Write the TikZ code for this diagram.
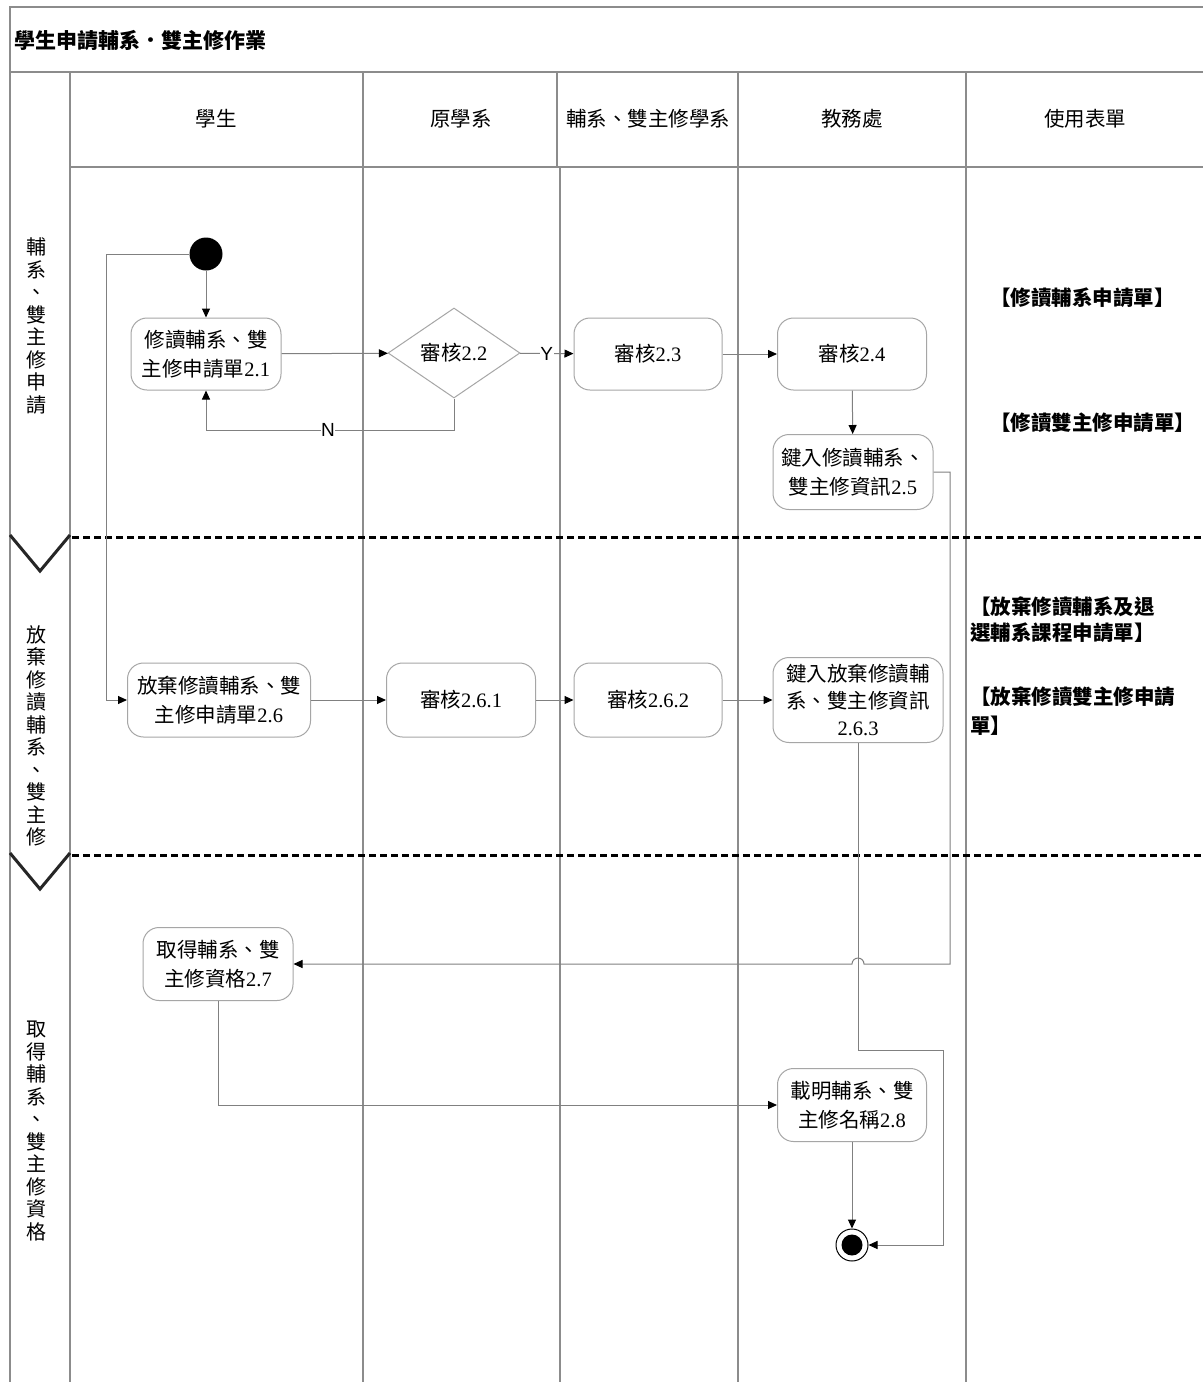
\documentclass[tikz,border=0pt]{standalone}
\usepackage{fontspec}
\setmainfont{Liberation Serif}
\newfontfamily\cjk{Noto Sans CJK TC}
\newfontfamily\lsans{Liberation Sans}
\usetikzlibrary{shapes.geometric,arrows.meta}
\newcommand\ZH[1]{{\cjk #1}}
\newcommand\ndfont{\fontsize{20.5}{29}\selectfont}
\newcommand\hdfont{\fontsize{20.5}{23}\selectfont\cjk}
\begin{document}
\begin{tikzpicture}[x=1pt,y=-1pt,
  lane/.style={draw=black!45,line width=1.2pt},
  box/.style={draw=black!35,line width=1pt,rounded corners=16pt,align=center,inner sep=2pt,font=\ndfont},
  dec/.style={draw=black!35,line width=1pt,shape=diamond,aspect=1.47,inner sep=0pt,minimum width=132pt,minimum height=90pt,font=\ndfont},
  conn/.style={draw=black!50,line width=1pt,-{Triangle[length=9pt,width=8pt,color=black]}},
  sepline/.style={draw=black,line width=3pt,dash pattern=on 7pt off 4pt},
  chev/.style={draw=black!85,line width=3pt},
  hd/.style={font=\hdfont,inner sep=1pt},
  phase/.style={font=\fontsize{20}{22.5}\selectfont\cjk,align=center,inner sep=0pt},
  form/.style={font=\fontsize{20.5}{27}\selectfont\cjk\bfseries,align=left,inner sep=0pt,anchor=west},
  lbl/.style={font=\fontsize{19}{22}\selectfont\lsans,fill=white,inner sep=0.5pt}
]
\useasboundingbox (0,0) rectangle (1203,1382);
\fill[white] (0,0) rectangle (1203,1382);
% frame and lanes
\draw[lane] (10,1382) -- (10,7) -- (1203,7);
\draw[lane] (10,72) -- (1203,72);
\draw[lane] (70,167) -- (1203,167);
\draw[lane] (70,72) -- (70,1382);
\draw[lane] (363,72) -- (363,1382);
\draw[lane] (557,72) -- (557,167);
\draw[lane] (560,167) -- (560,1382);
\draw[lane] (738,72) -- (738,1382);
\draw[lane] (966,72) -- (966,1382);
% phase separators
\draw[sepline] (72,537) -- (1203,537);
\draw[sepline] (72,855) -- (1203,855);
\draw[chev] (10,535) -- (40,571) -- (70,535);
\draw[chev] (10,853) -- (40,889) -- (70,853);
% title
\node[anchor=west,font=\fontsize{21}{23}\selectfont\cjk\bfseries,inner sep=0pt] (title) at (14,40) {學生申請輔系．雙主修作業};
% headers
\node[hd] (h1) at (216,119) {學生};
\node[hd] (h2) at (461,119) {原學系};
\node[hd] (h3) at (648,119) {輔系、雙主修學系};
\node[hd] (h4) at (852,119) {教務處};
\node[hd] (h5) at (1085,119) {使用表單};
% phase labels
\node[phase] (p1) at (37,326) {輔\\系\\、\\雙\\主\\修\\申\\請};
\node[phase] (p2) at (37,736) {放\\棄\\修\\讀\\輔\\系\\、\\雙\\主\\修};
\node[phase] (p3) at (37,1131) {取\\得\\輔\\系\\、\\雙\\主\\修\\資\\格};
% forms
\node[form] (f1) at (990,298) {【修讀輔系申請單】};
\node[form] (f2) at (990,423) {【修讀雙主修申請單】};
\node[form,font=\fontsize{20.5}{26}\selectfont\cjk\bfseries] (f3) at (970,620) {【放棄修讀輔系及退\\選輔系課程申請單】};
\node[form,font=\fontsize{20.5}{29}\selectfont\cjk\bfseries] (f4) at (970,711) {【放棄修讀雙主修申請\\單】};
% activity nodes
\node[circle,fill=black,minimum size=33pt,inner sep=0pt] (start) at (206,254) {};
\node[box,minimum width=150pt,minimum height=72pt] (n21) at (206,354) {\ZH{修讀輔系、雙}\\\ZH{主修申請單}2.1};
\node[dec] (d22) at (454,353) {\ZH{審核}2.2};
\node[box,minimum width=148pt,minimum height=72pt] (n23) at (648,354) {\ZH{審核}2.3};
\node[box,minimum width=149pt,minimum height=72pt] (n24) at (852,354) {\ZH{審核}2.4};
\node[box,minimum width=160pt,minimum height=75pt] (n25) at (853,472) {\ZH{鍵入修讀輔系、}\\\ZH{雙主修資訊}2.5};
\node[box,minimum width=183pt,minimum height=74pt] (n26) at (219,700) {\ZH{放棄修讀輔系、雙}\\\ZH{主修申請單}2.6};
\node[box,minimum width=149pt,minimum height=74pt] (n261) at (461,700) {\ZH{審核}2.6.1};
\node[box,minimum width=148pt,minimum height=74pt] (n262) at (648,700) {\ZH{審核}2.6.2};
\node[box,minimum width=170pt,minimum height=85pt,font=\fontsize{20.5}{27}\selectfont] (n263) at (858,700) {\ZH{鍵入放棄修讀輔}\\\ZH{系、雙主修資訊}\\2.6.3};
\node[box,minimum width=150pt,minimum height=73pt] (n27) at (218,964) {\ZH{取得輔系、雙}\\\ZH{主修資格}2.7};
\node[box,minimum width=149pt,minimum height=73pt] (n28) at (852,1105) {\ZH{載明輔系、雙}\\\ZH{主修名稱}2.8};
\node[circle,draw=black,line width=1pt,minimum size=32pt,inner sep=0pt] (end) at (852,1245) {};
\fill[black] (end.center) circle (10.5pt);
% helper coordinates
\coordinate (k1) at (106,254);
\coordinate (k2) at (454,430);
\coordinate (k3) at (950,964);
\coordinate (k4) at (943,1050);
\coordinate (h1a) at (864,964);
% connectors
\draw[conn] (start) -- (n21);
\draw[conn] (start.west) -- (k1) |- (n26.west);
\draw[conn] (n21) -- (d22);
\draw[conn] (d22) -- node[lbl] (ly) {Y} (n23);
\draw[conn] (d22.south) -- (k2) -| node[lbl,pos=0.254] (ln) {N} (n21.south);
\draw[conn] (n23) -- (n24);
\draw[conn] (n24) -- (n25);
\draw[conn] (n25.east) -| (k3) -- (h1a) arc (0:180:6pt) -- (n27.east);
\draw[conn] (n26) -- (n261);
\draw[conn] (n261) -- (n262);
\draw[conn] (n262) -- (n263);
\draw[conn] (n263.south) |- (k4) |- (end.east);
\draw[conn] (n27.south) |- (n28.west);
\draw[conn] (n28) -- (end);
\end{tikzpicture}
\end{document}
